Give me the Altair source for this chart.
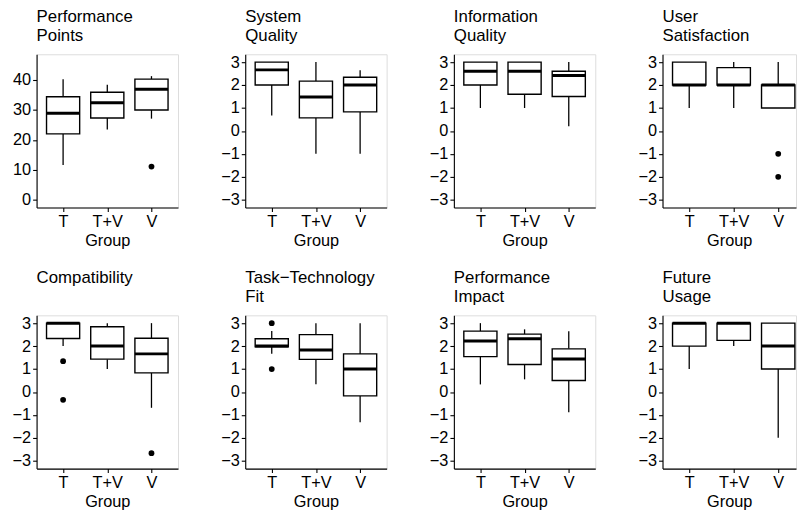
import altair as alt
import pandas as pd

groups = ["T", "T+V", "V"]
panel_titles = [
    ["Performance", "Points"], ["System", "Quality"], ["Information", "Quality"],
    ["User", "Satisfaction"], ["Compatibility", " "], ["Task\u2212Technology", "Fit"],
    ["Performance", "Impact"], ["Future", "Usage"],
]

whisker_low = [
    [11.6, 23.5, 27.1], [0.67, -1.0, -1.0], [1.0, 1.0, 0.2], [1.0, 1.0, 1.0],
    [2.0, 1.0, -0.69], [1.67, 0.34, -1.32], [0.33, 0.55, -0.88], [1.0, 2.0, -2.0],
]
q1 = [
    [22.0, 27.3, 30.0], [2.0, 0.57, 0.83], [2.0, 1.6, 1.5], [2.0, 2.0, 1.0],
    [2.33, 1.43, 0.83], [1.97, 1.42, -0.17], [1.54, 1.2, 0.5], [2.0, 2.25, 1.0],
]
median = [
    [28.9, 32.4, 36.9], [2.66, 1.48, 2.0], [2.6, 2.6, 2.42], [2.0, 2.0, 2.0],
    [3.0, 2.0, 1.66], [2.0, 1.83, 1.0], [2.22, 2.32, 1.44], [3.0, 3.0, 2.0],
]
q3 = [
    [34.4, 35.9, 40.3], [3.0, 2.17, 2.34], [3.0, 3.0, 2.6], [3.0, 2.76, 2.0],
    [3.0, 2.84, 2.34], [2.32, 2.5, 1.66], [2.65, 2.52, 1.88], [3.0, 3.0, 3.0],
]
whisker_high = [
    [40.3, 38.4, 41.3], [3.0, 3.0, 2.64], [3.0, 3.0, 3.0], [3.0, 3.0, 3.0],
    [3.0, 3.0, 3.0], [2.66, 3.0, 3.0], [3.0, 2.73, 2.65], [3.0, 3.0, 3.0],
]

outlier_panel = [0, 3, 3, 4, 4, 4, 5, 5]
outlier_group = ["V", "V", "V", "T", "T", "V", "T", "T"]
outlier_value = [11.1, -1.0, -2.0, 1.34, -0.34, -2.67, 3.0, 1.0]

y_ticks_points = [0, 10, 20, 30, 40]
y_ticks_likert = [-3, -2, -1, 0, 1, 2, 3]

FONT = "Liberation Sans"
LABEL_SIZE = 16.5
TITLE_SIZE = 17
label_expr = "[" + ",".join("'" + g + "'" for g in groups) + "][datum.value - 1]"

charts = []
for p in range(8):
    df = pd.DataFrame({
        "group": groups,
        "idx": [i + 1 for i in range(len(groups))],
        "lo": whisker_low[p], "q1": q1[p], "med": median[p],
        "q3": q3[p], "hi": whisker_high[p],
    })
    od = pd.DataFrame({
        "group": [g for k, g in zip(outlier_panel, outlier_group) if k == p],
        "value": [v for k, v in zip(outlier_panel, outlier_value) if k == p],
    })
    od["idx"] = [groups.index(g) + 1 for g in od["group"]]

    if p == 0:
        ydom, yvals = [-2.6, 48.6], y_ticks_points
    else:
        ydom, yvals = [-3.34, 3.34], y_ticks_likert
    last_col = (p % 4 == 3)
    xdom = [0.4, 3.4] if last_col else [0.4, 3.6]
    w = 135 if last_col else 143

    xs = alt.Scale(domain=xdom, nice=False, zero=False)
    ys = alt.Scale(domain=ydom, nice=False, zero=False)
    xax = alt.Axis(values=[1, 2, 3], labelExpr=label_expr, title="Group", grid=False,
                   domainColor="black", tickColor="black", labelColor="black",
                   tickSize=4, labelFontSize=LABEL_SIZE, titleFontSize=LABEL_SIZE,
                   titleFontWeight="normal", titleColor="black", labelPadding=2,
                   titlePadding=3, labelFont=FONT, titleFont=FONT, domainWidth=1.1,
                   tickWidth=1.1, labelOverlap=False)
    yax = alt.Axis(values=yvals, title=None, grid=False, domainColor="black",
                   tickColor="black", labelColor="black", tickSize=4,
                   labelFontSize=LABEL_SIZE, labelPadding=2, labelFont=FONT,
                   domainWidth=1.1, tickWidth=1.1, labelOverlap=False)

    def X(field):
        return alt.X(field, scale=xs, axis=xax, title="Group")

    def Y(field):
        return alt.Y(field, scale=ys, axis=yax, title=None)

    base = alt.Chart(df).transform_calculate(x1="datum.idx - 0.375", x2="datum.idx + 0.375")
    w_low = base.mark_rule(color="black", strokeWidth=1.3).encode(
        x=X("idx:Q"), y=Y("lo:Q"), y2="q1:Q")
    w_high = base.mark_rule(color="black", strokeWidth=1.3).encode(
        x=X("idx:Q"), y=Y("q3:Q"), y2="hi:Q")
    box = base.mark_bar(fill="white", stroke="black", strokeWidth=1.4).encode(
        x=X("x1:Q"), x2="x2:Q", y=Y("q1:Q"), y2="q3:Q")
    med = base.mark_rule(color="black", strokeWidth=3).encode(
        x=X("x1:Q"), x2="x2:Q", y=Y("med:Q"))
    layers = [w_low, w_high, box, med]
    if len(od):
        pts = alt.Chart(od).mark_circle(color="black", opacity=1, size=34).encode(
            x=X("idx:Q"), y=Y("value:Q"))
        layers.append(pts)
    ch = alt.layer(*layers).properties(
        width=w, height=155,
        title=alt.TitleParams(panel_titles[p], anchor="start", frame="group",
                              fontSize=TITLE_SIZE, fontWeight="normal", font=FONT,
                              color="black", lineHeight=20, offset=9),
    )
    charts.append(ch)

chart = alt.concat(*charts, columns=4, spacing={"row": 18, "column": 41}).properties(
    align="each", padding={"left": 11, "top": 4, "right": 0, "bottom": 0},
).configure_view(stroke=None).configure(background="white")

chart.save("out.html", embed_options={"renderer": "svg", "actions": False})
